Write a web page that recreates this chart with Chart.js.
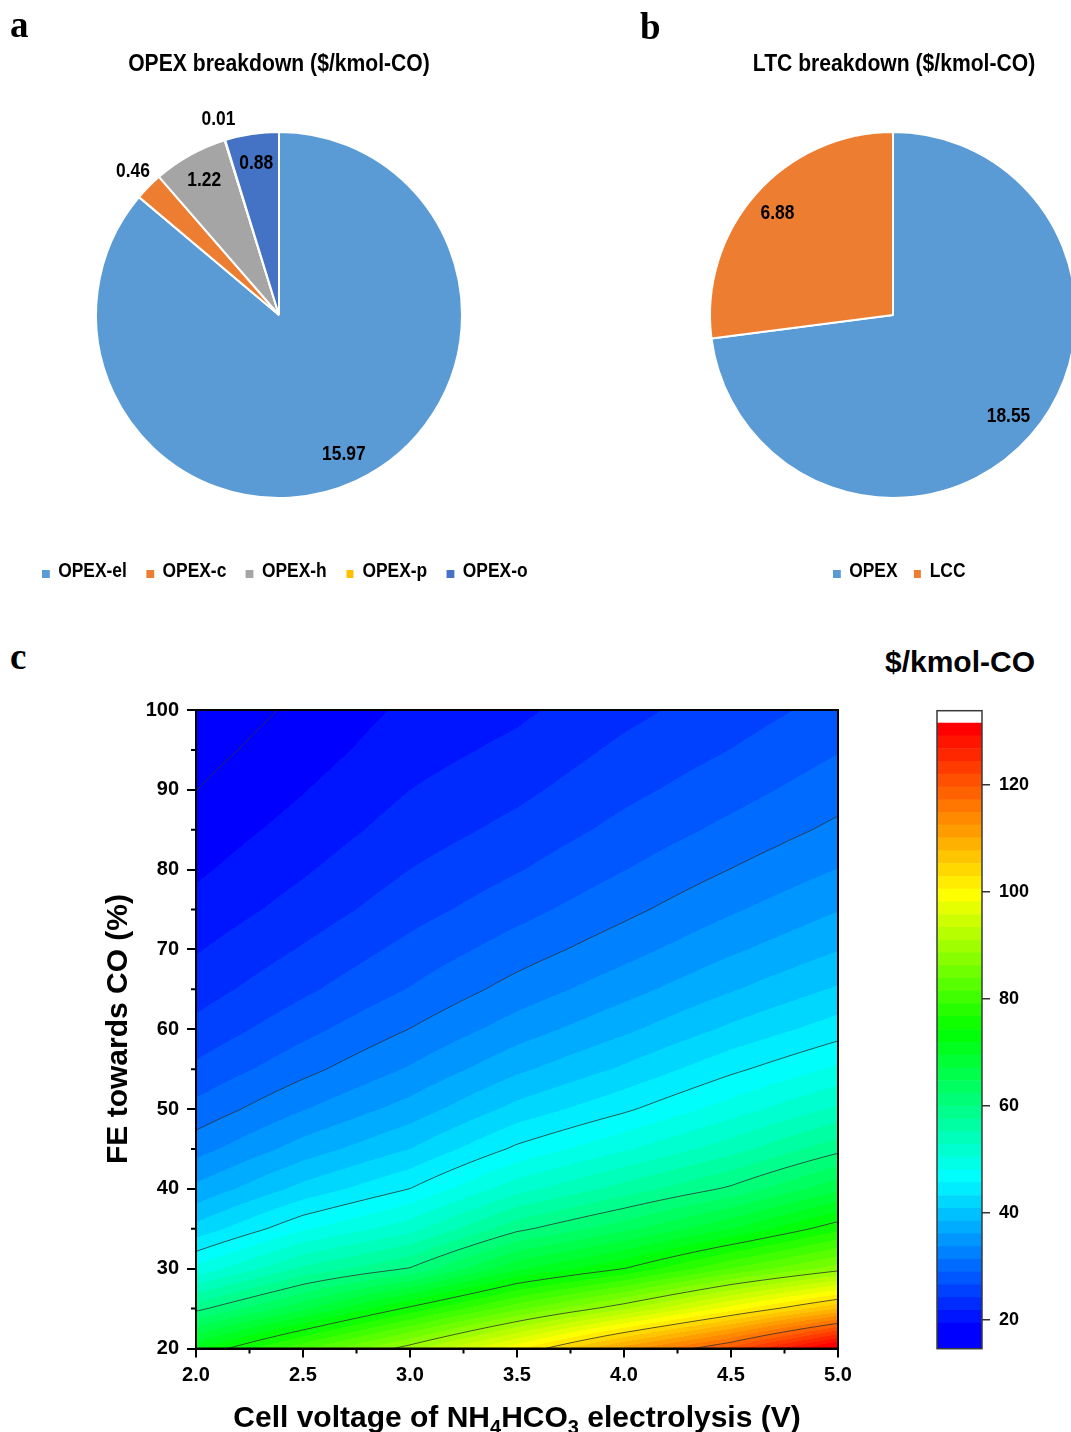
<!DOCTYPE html>
<html>
<head>
<meta charset="utf-8">
<script src="https://cdn.jsdelivr.net/npm/chart.js@4.4.1/dist/chart.umd.min.js"></script>
<style>
html, body { margin: 0; padding: 0; background: #fff; overflow: hidden; }
body { width: 1071px; height: 1432px; position: relative; font-family: "Liberation Sans", Arial, sans-serif; color: #000; }
canvas { position: absolute; }
.t { position: absolute; white-space: nowrap; font-weight: bold; line-height: 1; transform: translate(-50%, -50%); }
.narrow { transform: translate(-50%, -50%) scaleX(0.88); }
.rot { transform: translate(-50%, -50%) rotate(-90deg); }
.letter { position: absolute; font-family: "Liberation Serif", "Times New Roman", serif; font-weight: bold; font-size: 37px; line-height: 1; }
.legend { position: absolute; display: flex; align-items: center; font-weight: bold; font-size: 20px; line-height: 1; white-space: nowrap; transform-origin: 0 50%; transform: translateY(-50%) scaleX(0.87); }
.legend .item { display: flex; align-items: center; }
.legend i { display: inline-block; width: 8.6px; height: 7.5px; margin-right: 10px; position: relative; top: 4px; }
sub { font-size: 20px; line-height: 0; vertical-align: -7px; }
</style>
</head>
<body>
<canvas id="pieA" width="560" height="600" style="left:0;top:0"></canvas>
<canvas id="pieB" width="600" height="600" style="left:560px;top:0"></canvas>
<canvas id="contour" width="900" height="752" style="left:0;top:680px"></canvas>
<canvas id="scaleBar" width="171" height="680" style="left:900px;top:690px"></canvas>

<div class="letter" style="left:10px;top:6px">a</div>
<div class="letter" style="left:640px;top:8px">b</div>
<div class="letter" style="left:10px;top:638px">c</div>

<div class="t narrow" style="left:279px;top:63px;font-size:24px">OPEX breakdown ($/kmol-CO)</div>
<div class="t narrow" style="left:894px;top:63px;font-size:24px">LTC breakdown ($/kmol-CO)</div>
<div class="legend" id="legendA" style="left:42px;top:570px"></div>
<div class="legend" id="legendB" style="left:833px;top:570px"></div>

<div class="t" style="left:960px;top:662px;font-size:30px">$/kmol-CO</div>
<div class="t rot" style="left:117px;top:1029px;font-size:30px">FE towards CO (%)</div>
<div class="t" style="left:517px;top:1417px;font-size:30px">Cell voltage of NH<sub>4</sub>HCO<sub>3</sub> electrolysis (V)</div>

<script>
// panel a: OPEX breakdown
const opexLabels = ["OPEX-el", "OPEX-c", "OPEX-h", "OPEX-p", "OPEX-o"];
const opexValues = [15.97, 0.46, 1.22, 0.01, 0.88];
const opexColors = ["#5B9BD5", "#ED7D31", "#A5A5A5", "#FFC000", "#4472C4"];

// panel b: LTC breakdown
const ltcLabels = ["OPEX", "LCC"];
const ltcValues = [18.55, 6.88];
const ltcColors = ["#5B9BD5", "#ED7D31"];

// panel c: cost grid ($/kmol-CO), rows = FE, columns = cell voltage
const voltages = [2.0, 2.5, 3.0, 3.5, 4.0, 4.5, 5.0];
const feValues = [20, 25, 30, 35, 40, 45, 50, 55, 60, 65, 70, 75, 80, 85, 90, 95, 100];
const costGrid = [
    [71.5, 81.0, 90.0, 100.0, 111.2, 120.6, 133.7],
    [59.2, 66.6, 75.0, 83.2, 90.6, 99.3, 107.7],
    [48.7, 55.7, 60.2, 69.1, 74.3, 81.6, 87.5],
    [41.7, 47.7, 51.9, 59.3, 64.0, 69.5, 76.0],
    [36.7, 41.7, 45.7, 51.9, 56.2, 60.5, 66.6],
    [32.8, 37.2, 40.9, 46.2, 50.1, 54.2, 59.2],
    [29.7, 33.6, 37.1, 41.7, 45.2, 49.2, 53.3],
    [27.1, 30.6, 34.0, 38.0, 41.3, 45.1, 48.5],
    [24.9, 28.2, 31.4, 34.9, 38.0, 41.4, 44.5],
    [23.1, 26.1, 29.1, 32.3, 35.2, 38.3, 41.2],
    [21.6, 24.4, 27.3, 30.1, 32.8, 35.7, 38.4],
    [20.2, 22.8, 25.6, 28.1, 30.7, 33.4, 36.0],
    [19.0, 21.5, 24.2, 26.4, 28.9, 31.4, 33.8],
    [18.0, 20.3, 22.9, 24.9, 27.3, 29.6, 31.9],
    [17.0, 19.3, 21.8, 23.6, 25.9, 28.0, 30.3],
    [16.2, 18.3, 20.8, 22.4, 24.7, 26.6, 28.8],
    [15.5, 17.5, 19.9, 21.3, 23.5, 25.4, 27.4]
];
const xTicks = [2.0, 2.5, 3.0, 3.5, 4.0, 4.5, 5.0];
const xMinorTicks = [2.25, 2.75, 3.25, 3.75, 4.25, 4.75];
const yTicks = [20, 30, 40, 50, 60, 70, 80, 90, 100];
const yMinorTicks = [25, 35, 45, 55, 65, 75, 85, 95];
const barTicks = [20, 40, 60, 80, 100, 120];

// contour levels
const levelMin = 14.64;
const levelMax = 131.6;
const barTop = 133.9;
const nBands = 49;
const lineEvery = 6;

const FONT = '"Liberation Sans", Arial, sans-serif';
const levelStep = (levelMax - levelMin) / nBands;
const cmapStops = [17.1, 46, 74, 100, levelMax];
const cmapColors = [[0, 0, 255], [0, 255, 255], [0, 255, 0], [255, 255, 0], [255, 0, 0]];

function clamp(v, a, b) { return Math.max(a, Math.min(b, v)); }

function cmap(val) {
    let k = 0;
    while (k < cmapStops.length - 2 && val > cmapStops[k + 1]) k++;
    const t = clamp((val - cmapStops[k]) / (cmapStops[k + 1] - cmapStops[k]), 0, 1);
    return cmapColors[k].map((c, m) => Math.round(c + (cmapColors[k + 1][m] - c) * t));
}

const bandRgb = [];
for (let i = 0; i < nBands; i++) bandRgb.push(cmap(levelMin + (levelMax - levelMin) * i / (nBands - 1)));
const lineLevels = [];
for (let i = 1; i < nBands; i += lineEvery) lineLevels.push(levelMin + i * levelStep);

function sampleCost(v, fe) {
    let i = 0, j = 0;
    while (i < voltages.length - 2 && v > voltages[i + 1]) i++;
    while (j < feValues.length - 2 && fe > feValues[j + 1]) j++;
    const tx = clamp((v - voltages[i]) / (voltages[i + 1] - voltages[i]), 0, 1);
    const ty = clamp((fe - feValues[j]) / (feValues[j + 1] - feValues[j]), 0, 1);
    const a = costGrid[j][i], b = costGrid[j][i + 1], c = costGrid[j + 1][i], d = costGrid[j + 1][i + 1];
    return a * (1 - tx) * (1 - ty) + b * tx * (1 - ty) + c * (1 - tx) * ty + d * tx * ty;
}

// pie value labels, inside for big slices, outside for thin ones
const sliceLabels = {
    id: "sliceLabels",
    afterDatasetsDraw(chart) {
        const ctx = chart.ctx;
        const vals = chart.data.datasets[0].data;
        const total = vals.reduce((s, v) => s + v, 0);
        chart.getDatasetMeta(0).data.forEach((arc, i) => {
            const p = arc.getProps(["x", "y", "startAngle", "endAngle", "outerRadius"], true);
            const mid = (p.startAngle + p.endAngle) / 2;
            const r = vals[i] / total < 0.04 ? p.outerRadius * 1.12 : p.outerRadius * 0.84;
            ctx.save();
            ctx.translate(p.x + Math.cos(mid) * r, p.y + Math.sin(mid) * r);
            ctx.scale(0.87, 1);
            ctx.font = "bold 20px " + FONT;
            ctx.fillStyle = "#000";
            ctx.textAlign = "center";
            ctx.textBaseline = "middle";
            ctx.fillText(vals[i].toFixed(2), 0, 0);
            ctx.restore();
        });
    }
};

function makePie(id, labels, values, colors, padding) {
    return new Chart(document.getElementById(id), {
        type: "pie",
        data: { labels, datasets: [{ data: values, backgroundColor: colors, borderColor: "#fff", borderWidth: 2 }] },
        options: {
            responsive: false,
            animation: false,
            layout: { padding },
            plugins: { legend: { display: false }, tooltip: { enabled: false } }
        },
        plugins: [sliceLabels]
    });
}

function makeLegend(id, labels, colors, gap) {
    const box = document.getElementById(id);
    labels.forEach((lab, i) => {
        const item = document.createElement("span");
        item.className = "item";
        if (i < labels.length - 1) item.style.marginRight = gap + "px";
        item.innerHTML = `<i style="background:${colors[i]}"></i>${lab}`;
        box.appendChild(item);
    });
}

makePie("pieA", opexLabels, opexValues, opexColors, { left: 95, right: 97, top: 131, bottom: 101 });
makePie("pieB", ltcLabels, ltcValues, ltcColors, { left: 149, right: 83, top: 131, bottom: 101 });
makeLegend("legendA", opexLabels, opexColors, 22.4);
makeLegend("legendB", ltcLabels, ltcColors, 18.4);

// filled contour + contour lines drawn through the scales
const contourFill = {
    id: "contourFill",
    beforeDatasetsDraw(chart) {
        const { ctx, chartArea: area, scales } = chart;
        const x = scales.x, y = scales.y;
        const left = Math.round(area.left), top = Math.round(area.top);
        const w = Math.round(area.right) - left, h = Math.round(area.bottom) - top;
        const off = document.createElement("canvas");
        off.width = w; off.height = h;
        const octx = off.getContext("2d");
        const img = octx.createImageData(w, h);
        const colV = [], rowF = [];
        for (let i = 0; i < w; i++) colV.push(x.getValueForPixel(left + i + 0.5));
        for (let j = 0; j < h; j++) rowF.push(y.getValueForPixel(top + j + 0.5));
        for (let j = 0; j < h; j++) {
            for (let i = 0; i < w; i++) {
                const val = sampleCost(colV[i], rowF[j]);
                const band = clamp(Math.floor((val - levelMin) / levelStep), 0, nBands - 1);
                const c = bandRgb[band];
                const k = (j * w + i) * 4;
                img.data[k] = c[0]; img.data[k + 1] = c[1]; img.data[k + 2] = c[2]; img.data[k + 3] = 255;
            }
        }
        octx.putImageData(img, 0, 0);
        ctx.drawImage(off, left, top);

        // marching squares on a fine pixel lattice
        const step = 2;
        const px = [], py = [];
        for (let p = area.left; p < area.right; p += step) px.push(p);
        px.push(area.right);
        for (let p = area.top; p < area.bottom; p += step) py.push(p);
        py.push(area.bottom);
        const field = py.map(yy => px.map(xx => sampleCost(x.getValueForPixel(xx), y.getValueForPixel(yy))));
        ctx.save();
        ctx.beginPath();
        ctx.rect(area.left, area.top, area.right - area.left, area.bottom - area.top);
        ctx.clip();
        ctx.strokeStyle = "rgba(50,50,50,0.8)";
        ctx.lineWidth = 1;
        lineLevels.forEach(L => {
            ctx.beginPath();
            for (let j = 0; j < py.length - 1; j++) {
                for (let i = 0; i < px.length - 1; i++) {
                    const v00 = field[j][i] - L, v10 = field[j][i + 1] - L;
                    const v01 = field[j + 1][i] - L, v11 = field[j + 1][i + 1] - L;
                    const pts = [];
                    if ((v00 < 0) !== (v10 < 0)) pts.push([px[i] + (px[i + 1] - px[i]) * v00 / (v00 - v10), py[j]]);
                    if ((v10 < 0) !== (v11 < 0)) pts.push([px[i + 1], py[j] + (py[j + 1] - py[j]) * v10 / (v10 - v11)]);
                    if ((v01 < 0) !== (v11 < 0)) pts.push([px[i] + (px[i + 1] - px[i]) * v01 / (v01 - v11), py[j + 1]]);
                    if ((v00 < 0) !== (v01 < 0)) pts.push([px[i], py[j] + (py[j + 1] - py[j]) * v00 / (v00 - v01)]);
                    for (let m = 0; m + 1 < pts.length; m += 2) {
                        ctx.moveTo(pts[m][0], pts[m][1]);
                        ctx.lineTo(pts[m + 1][0], pts[m + 1][1]);
                    }
                }
            }
            ctx.stroke();
        });
        ctx.restore();
    },
    afterDraw(chart) {
        const { ctx, chartArea: area, scales } = chart;
        ctx.save();
        ctx.strokeStyle = "#000";
        ctx.lineWidth = 2;
        ctx.strokeRect(area.left, area.top, area.right - area.left, area.bottom - area.top);
        ctx.beginPath();
        xMinorTicks.forEach(v => {
            const p = scales.x.getPixelForValue(v);
            ctx.moveTo(p, area.bottom);
            ctx.lineTo(p, area.bottom + 5);
        });
        yMinorTicks.forEach(v => {
            const p = scales.y.getPixelForValue(v);
            ctx.moveTo(area.left, p);
            ctx.lineTo(area.left - 5, p);
        });
        ctx.stroke();
        ctx.restore();
    }
};

const gridPoints = [];
feValues.forEach((fe, j) => voltages.forEach((v, i) => gridPoints.push({ x: v, y: fe, z: costGrid[j][i] })));

const axisFont = { size: 20, weight: "bold", family: FONT };

new Chart(document.getElementById("contour"), {
    type: "scatter",
    data: { datasets: [{ data: gridPoints, pointRadius: 0, showLine: false }] },
    options: {
        responsive: false,
        animation: false,
        layout: { padding: { left: 0, right: 62, top: 30, bottom: 0 } },
        plugins: { legend: { display: false }, tooltip: { enabled: false } },
        scales: {
            x: {
                type: "linear", min: 2, max: 5,
                afterBuildTicks: s => { s.ticks = xTicks.map(v => ({ value: v })); },
                afterFit: s => { s.height = 83.5; },
                grid: { drawOnChartArea: false, tickLength: 9, color: "#000", lineWidth: 2 },
                border: { color: "#000", width: 2 },
                ticks: { padding: 6, color: "#000", font: axisFont, maxRotation: 0, autoSkip: false, callback: v => Number(v).toFixed(1) }
            },
            y: {
                type: "linear", min: 20, max: 100,
                afterBuildTicks: s => { s.ticks = yTicks.map(v => ({ value: v })); },
                afterFit: s => { s.width = 196; },
                grid: { drawOnChartArea: false, tickLength: 9, color: "#000", lineWidth: 2 },
                border: { color: "#000", width: 2 },
                ticks: { padding: 8, color: "#000", font: axisFont, autoSkip: false }
            }
        }
    },
    plugins: [contourFill]
});

// colour scale bar: one floating bar per contour band
const barBox = {
    id: "barBox",
    afterDraw(chart) {
        const { ctx, chartArea: a } = chart;
        ctx.save();
        ctx.strokeStyle = "#3a3a3a";
        ctx.lineWidth = 1.5;
        ctx.strokeRect(a.left, a.top, a.right - a.left, a.bottom - a.top);
        ctx.restore();
    }
};

const bandSets = bandRgb.map((c, i) => ({
    data: [[levelMin + i * levelStep, levelMin + (i + 1) * levelStep]],
    backgroundColor: `rgb(${c[0]},${c[1]},${c[2]})`,
    borderWidth: 0,
    barPercentage: 1,
    categoryPercentage: 1,
    grouped: false
}));

new Chart(document.getElementById("scaleBar"), {
    type: "bar",
    data: { labels: [""], datasets: bandSets },
    options: {
        responsive: false,
        animation: false,
        layout: { padding: { left: 37, right: 0, top: 20.7, bottom: 21.3 } },
        plugins: { legend: { display: false }, tooltip: { enabled: false } },
        scales: {
            x: { display: false },
            y: {
                position: "right", min: levelMin, max: barTop,
                afterBuildTicks: s => { s.ticks = barTicks.map(v => ({ value: v })); },
                afterFit: s => { s.width = 89; },
                grid: { drawOnChartArea: false, tickLength: 8, color: "#333", lineWidth: 1.5 },
                border: { display: false },
                ticks: { padding: 9, color: "#000", font: { size: 18, weight: "bold", family: FONT } }
            }
        }
    },
    plugins: [barBox]
});
</script>
</body>
</html>
